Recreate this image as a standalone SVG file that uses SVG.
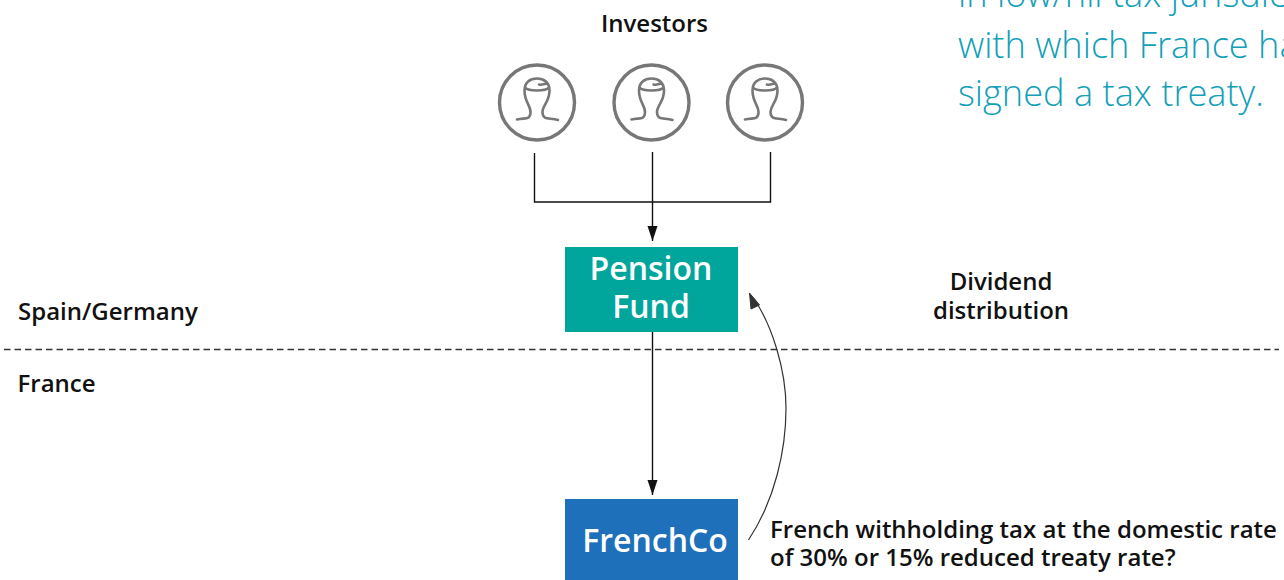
<svg xmlns="http://www.w3.org/2000/svg" width="1284" height="580" viewBox="0 0 1284 580">
<style>
text{font-family:"Open Sans","Noto Sans","DejaVu Sans",sans-serif}
.l{font-size:24px;font-weight:600;fill:#111}
.b{font-size:32px;font-weight:600;fill:#fff;text-anchor:middle}
.t{font-size:36.200px;font-weight:300;fill:#12a0b8}
.c{fill:none;stroke:#777;stroke-width:3.400}
.h{fill:none;stroke:#777;stroke-width:2.600;stroke-linecap:round;stroke-linejoin:round}
.k{fill:none;stroke:#111;stroke-width:1.400}
</style>
<defs>
<marker id="a" markerUnits="userSpaceOnUse" markerWidth="16" markerHeight="12" refX="15" refY="6" orient="auto"><path d="M0 1L15 6L0 11Z" fill="#111"/></marker>
<g id="inv"><circle class="c" cx="0" cy="0" r="37.500"/><path class="h" d="M-20 17C-12 15-7 18-6.500 10C-6 3-12.500 0-12.500-12C-12.500-20-7-24 0-24C7-24 12.500-20 12.500-12C12.500 0 5 3 5.500 10C6 18 12 15 21 17.500M-12-15C-9-11 9-11 12-15M2-18C5-17 8-19 10-19"/></g>
</defs>
<g id="heading"><text class="t" x="958" y="7">in low/nil tax jurisdiction</text><text class="t" x="958" y="58">with which France has</text><text class="t" x="958" y="106">signed a tax treaty.</text></g>
<g id="investors-label"><text class="l" x="654.500" y="32" text-anchor="middle">Investors</text></g>
<g id="investor-1"><use href="#inv" x="537" y="102.500"/></g>
<g id="investor-2"><use href="#inv" x="651.500" y="102.500"/></g>
<g id="investor-3"><use href="#inv" x="765" y="102.500"/></g>
<g id="connectors">
<path class="k" d="M534.500 153V202H770.500V152"/>
<path class="k" d="M652.500 152V241" marker-end="url(#a)"/>
<path class="k" d="M652.500 331V495" marker-end="url(#a)"/>
<path d="M748.500 540C775 500 786 450 786 408C786 370 772 325 754 299" fill="none" stroke="#333" stroke-width="1.200"/>
<path d="M749.500 293L759.500 305L751 309Z" fill="#333" stroke="#333"/>
<path d="M4 349.500H1279" fill="none" stroke="#333" stroke-width="1.400" stroke-dasharray="6.500 4"/>
</g>
<g id="pension-fund"><rect x="565" y="247" width="173" height="85" fill="#00a59b"/><text class="b" x="651" y="280">Pension</text><text class="b" x="651" y="318">Fund</text></g>
<g id="frenchco"><rect x="565" y="499" width="173" height="81" fill="#1e70ba"/><text class="b" x="655" y="552">FrenchCo</text></g>
<g id="region-labels"><text class="l" x="18" y="320">Spain/Germany</text><text class="l" x="17.500" y="392">France</text></g>
<g id="dividend"><text class="l" x="1001" y="290" text-anchor="middle">Dividend</text><text class="l" x="1001" y="319" text-anchor="middle">distribution</text></g>
<g id="wht"><text class="l" x="770" y="538">French withholding tax at the domestic rate</text><text class="l" x="770" y="566">of 30% or 15% reduced treaty rate?</text></g>
</svg>
